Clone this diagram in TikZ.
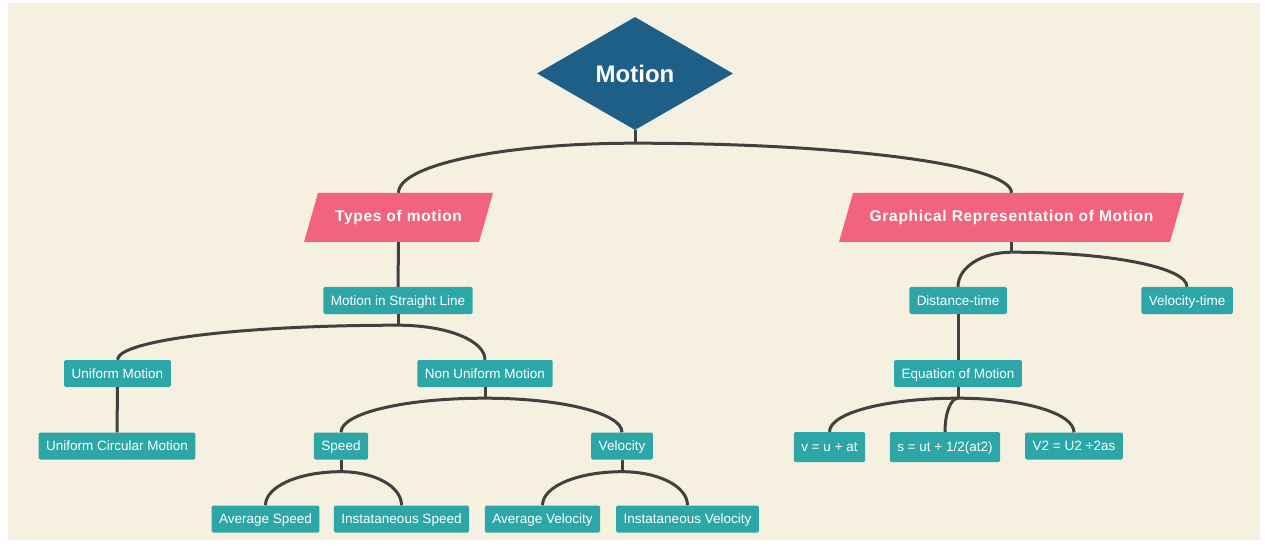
\documentclass[tikz,border=0pt]{standalone}
\usepackage{fontspec}
\setmainfont{Liberation Sans}
\usetikzlibrary{shapes.geometric,calc}
\definecolor{paper}{HTML}{F6F0E1}
\definecolor{topblue}{HTML}{1E5F88}
\definecolor{rosered}{HTML}{F2647E}
\definecolor{tealbox}{HTML}{2CA6A6}
\definecolor{linkgray}{HTML}{414141}
\begin{document}
\begin{tikzpicture}[x=1pt, y=-1pt,
	root/.style={diamond, fill=topblue, text=white, minimum width=196pt, minimum height=113pt, inner sep=0pt, font=\fontsize{24}{28}\selectfont\bfseries},
	para/.style={minimum width=#1, minimum height=49pt, inner sep=0pt, text=white, font=\fontsize{15.5}{18}\selectfont\bfseries\addfontfeature{LetterSpace=4.5},
		path picture={\fill[rosered] ([xshift=14pt]path picture bounding box.north west) -- (path picture bounding box.north east) -- ([xshift=-14pt]path picture bounding box.south east) -- (path picture bounding box.south west) -- cycle;}},
	leaf/.style={fill=tealbox, text=white, rounded corners=1.5pt, minimum height=27pt, inner xsep=7.5pt, inner ysep=0pt, text height=10pt, text depth=0.5pt, font=\fontsize{13.5}{16}\selectfont},
	link/.style={linkgray, line width=3pt},
	swing/.style={to path={.. controls ($(\tikztostart)!0.56!(\tikztotarget |- \tikztostart)$) and ($(\tikztotarget)!0.56!(\tikztotarget |- \tikztostart)$) .. (\tikztotarget)}}]
	\useasboundingbox (0,0) rectangle (1266,545);
	\fill[white] (0,0) rectangle (1266,545);
	\fill[paper] (8,3) rectangle (1260,540);

	\node[root] (motion) at (635,73.5) {Motion};
	\node[para=189pt] (types) at (398.5,217.5) {Types of motion};
	\node[para=345pt] (graph) at (1011.5,217.5) {Graphical Representation of Motion};

	\node[leaf] (straight) at (398,300.5) {Motion in Straight Line};
	\node[leaf] (uniform) at (117.5,373.5) {Uniform Motion};
	\node[leaf] (nonuniform) at (485,373.5) {Non Uniform Motion};
	\node[leaf] (circular) at (117,446) {Uniform Circular Motion};
	\node[leaf] (speed) at (341,446) {Speed};
	\node[leaf] (velocity) at (622,446) {Velocity};
	\node[leaf] (avgspeed) at (265.5,519) {Average Speed};
	\node[leaf] (instspeed) at (401.5,519) {Instataneous Speed};
	\node[leaf] (avgvel) at (542.5,519) {Average Velocity};
	\node[leaf] (instvel) at (687.5,519) {Instataneous Velocity};

	\node[leaf] (distance) at (958,300.5) {Distance-time};
	\node[leaf] (veltime) at (1187,300.5) {Velocity-time};
	\node[leaf] (equation) at (958,373.5) {Equation of Motion};
	\node[leaf, minimum height=30pt] (eqone) at (829.5,447) {v = u + at};
	\node[leaf, minimum height=30pt] (eqtwo) at (945,447) {s = ut + 1/2(at2)};
	\node[leaf] (eqthree) at (1074,446) {V2 = U2 +2as};

	\draw[link] (motion.south) -- ++(0,13) coordinate (jmotion);
	\draw[link] (jmotion) to[swing] (types.north);
	\draw[link] (jmotion) to[swing] (graph.north);

	\draw[link] (types.south) -- (straight.north);
	\draw[link] (straight.south) -- ++(0,11) coordinate (jstraight);
	\draw[link] (jstraight) to[swing] (uniform.north);
	\draw[link] (jstraight) to[swing] (nonuniform.north);
	\draw[link] (uniform.south) -- (circular.north);
	\draw[link] (nonuniform.south) -- ++(0,11) coordinate (jnon);
	\draw[link] (jnon) to[swing] (speed.north);
	\draw[link] (jnon) to[swing] (velocity.north);
	\draw[link] (speed.south) -- ++(0,12) coordinate (jspeed);
	\draw[link] (jspeed) to[swing] (avgspeed.north);
	\draw[link] (jspeed) to[swing] (instspeed.north);
	\draw[link] (velocity.south) -- ++(0,12) coordinate (jvel);
	\draw[link] (jvel) to[swing] (avgvel.north);
	\draw[link] (jvel) to[swing] (instvel.north);

	\draw[link] (graph.south) -- ++(0,10) coordinate (jgraph);
	\draw[link] (jgraph) to[swing] (distance.north);
	\draw[link] (jgraph) to[swing] (veltime.north);
	\draw[link] (distance.south) -- (equation.north);
	\draw[link] (equation.south) -- ++(0,11) coordinate (jeq);
	\draw[link] (jeq) to[swing] (eqone.north);
	\draw[link] (jeq) to[swing] (eqtwo.north);
	\draw[link] (jeq) to[swing] (eqthree.north);
\end{tikzpicture}
\end{document}
